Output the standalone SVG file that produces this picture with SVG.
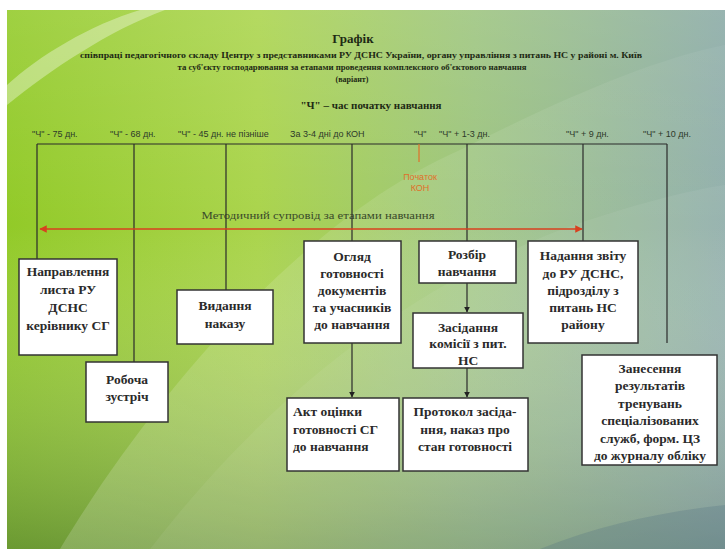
<svg xmlns="http://www.w3.org/2000/svg" width="725" height="549" viewBox="0 0 725 549">
<defs>
<linearGradient id="bgH" x1="0" y1="0" x2="1" y2="0">
<stop offset="0" stop-color="#92ca28"/>
<stop offset="0.35" stop-color="#aad44c"/>
<stop offset="0.65" stop-color="#9cc47e"/>
<stop offset="1" stop-color="#8aaaa6"/>
</linearGradient>
<linearGradient id="bgV" x1="0" y1="0" x2="0" y2="1">
<stop offset="0" stop-color="#ffffff" stop-opacity="0.12"/>
<stop offset="0.4" stop-color="#ffffff" stop-opacity="0"/>
<stop offset="1" stop-color="#2a4a40" stop-opacity="0.38"/>
</linearGradient>
<linearGradient id="sw" x1="0" y1="1" x2="1" y2="0">
<stop offset="0" stop-color="#ffffff" stop-opacity="0.18"/>
<stop offset="1" stop-color="#ffffff" stop-opacity="0.05"/>
</linearGradient>
<marker id="ab" viewBox="0 0 10 10" refX="9" refY="5" markerWidth="5" markerHeight="5" orient="auto">
<path d="M0,0 L10,5 L0,10 z" fill="#222"/>
</marker>
<marker id="ar" viewBox="0 0 10 10" refX="9" refY="5" markerWidth="5" markerHeight="5" orient="auto-start-reverse">
<path d="M0,0 L10,5 L0,10 z" fill="#d8401f"/>
</marker>
</defs>
<style>
.box{fill:#fff;stroke:#333;stroke-width:1.5}
.bt{font-family:"Liberation Serif","Times New Roman",serif;font-size:13.5px;font-weight:bold;fill:#2a2a2a;text-anchor:middle}
.bl{font-family:"Liberation Serif","Times New Roman",serif;font-size:13.5px;font-weight:bold;fill:#2a2a2a;text-anchor:start}
.tl{font-family:"Liberation Sans",Arial,sans-serif;font-size:9px;fill:#2e3a2a}
.ln{stroke:#2a2a2a;stroke-width:1.2;fill:none}
.hd{font-family:"Liberation Serif","Times New Roman",serif;font-weight:bold;fill:#1e2a14;text-anchor:middle}
</style>
<rect x="0" y="0" width="725" height="549" fill="#fff"/>
<g id="background">
<rect x="7" y="10" width="718" height="539" fill="url(#bgH)"/>
<rect x="7" y="10" width="718" height="539" fill="url(#bgV)"/>
<path d="M60,549 C150,400 300,220 460,150 C560,100 650,60 725,45 L725,549 Z" fill="url(#sw)"/>
<path d="M150,549 C250,420 380,300 560,230 C630,205 690,190 725,185 L725,549 Z" fill="#ffffff" fill-opacity="0.06"/>
<path d="M7,85 C40,55 90,25 140,10 L165,10 C110,30 50,70 7,105 Z" fill="#ffffff" fill-opacity="0.35"/>
<path d="M540,549 C600,525 660,512 725,505 L725,549 Z" fill="#4a6a80" fill-opacity="0.25"/>
</g>
<g id="title">
<text class="hd" x="353" y="43" font-size="13">Графік</text>
<text class="hd" x="361" y="58" font-size="8" textLength="562" lengthAdjust="spacingAndGlyphs">співпраці педагогічного складу Центру з представниками РУ ДСНС України, органу управління з питань НС у районі  м. Київ</text>
<text class="hd" x="352" y="70" font-size="8" textLength="349" lengthAdjust="spacingAndGlyphs">та суб'єкту господарювання за етапами  проведення  комплексного об'єктового навчання</text>
<text class="hd" x="352" y="82" font-size="8">(варіант)</text>
<text class="hd" x="371" y="109" font-size="11">"Ч" – час початку навчання</text>
</g>
<g id="timeline-labels">
<text class="tl" x="32" y="137">"Ч" - 75 дн.</text>
<text class="tl" x="110" y="137">"Ч" - 68 дн.</text>
<text class="tl" x="178" y="137">"Ч" - 45 дн. не пізніше</text>
<text class="tl" x="290" y="137">За 3-4 дні до КОН</text>
<text class="tl" x="414" y="137">"Ч"</text>
<text class="tl" x="439" y="137">"Ч" + 1-3 дн.</text>
<text class="tl" x="566" y="137">"Ч" + 9 дн.</text>
<text class="tl" x="643" y="137">"Ч" + 10 дн.</text>
<text x="420" y="180" font-family="Liberation Sans, Arial, sans-serif" font-size="9" fill="#e0702a" text-anchor="middle">Початок</text>
<text x="420" y="191" font-family="Liberation Sans, Arial, sans-serif" font-size="9" fill="#e0702a" text-anchor="middle">КОН</text>
<text x="318" y="219" font-family="'Liberation Serif', 'Times New Roman', serif" font-size="11" fill="#3a4a2a" text-anchor="middle" textLength="233" lengthAdjust="spacingAndGlyphs">Методичний супровід  за  етапами навчання</text>
</g>
<g id="connectors">
<line class="ln" x1="37" y1="144" x2="667" y2="144"/>
<line class="ln" x1="37" y1="144" x2="37" y2="259"/>
<line class="ln" x1="134" y1="144" x2="134" y2="362"/>
<line class="ln" x1="226" y1="144" x2="226" y2="290"/>
<line class="ln" x1="352" y1="144" x2="352" y2="241"/>
<line class="ln" x1="467" y1="144" x2="467" y2="241"/>
<line class="ln" x1="583" y1="144" x2="583" y2="241"/>
<line class="ln" x1="667" y1="144" x2="667" y2="343"/>
<line x1="419" y1="144" x2="419" y2="162" stroke="#e0702a" stroke-width="1.2"/>
<line x1="40" y1="229" x2="582" y2="229" stroke="#d8401f" stroke-width="1.5" marker-start="url(#ar)" marker-end="url(#ar)"/>
<line class="ln" x1="352" y1="343" x2="352" y2="397" marker-end="url(#ab)"/>
<line class="ln" x1="467" y1="283" x2="467" y2="312" marker-end="url(#ab)"/>
<line class="ln" x1="467" y1="368" x2="467" y2="397" marker-end="url(#ab)"/>
</g>
<g id="n-napravlennia">
<rect class="box" x="19" y="259" width="98" height="96"/>
<text class="bt" x="68" y="276">Направлення</text>
<text class="bt" x="68" y="294">листа РУ</text>
<text class="bt" x="68" y="312">ДСНС</text>
<text class="bt" x="68" y="330">керівнику СГ</text>
</g>
<g id="n-robocha">
<rect class="box" x="86" y="362" width="82" height="60"/>
<text class="bt" x="127" y="384">Робоча</text>
<text class="bt" x="127" y="401">зустріч</text>
</g>
<g id="n-vydannia">
<rect class="box" x="177" y="290" width="96" height="54"/>
<text class="bt" x="225" y="310">Видання</text>
<text class="bt" x="225" y="328">наказу</text>
</g>
<g id="n-ohliad">
<rect class="box" x="304" y="241" width="97" height="102"/>
<text class="bt" x="352" y="261">Огляд</text>
<text class="bt" x="352" y="278">готовності</text>
<text class="bt" x="352" y="295">документів</text>
<text class="bt" x="352" y="312">та учасників</text>
<text class="bt" x="352" y="329">до навчання</text>
</g>
<g id="n-akt">
<rect class="box" x="287" y="398" width="112" height="73"/>
<text class="bl" x="293" y="416">Акт оцінки</text>
<text class="bl" x="293" y="434">готовності СГ</text>
<text class="bl" x="293" y="451">до навчання</text>
</g>
<g id="n-rozbir">
<rect class="box" x="419" y="241" width="97" height="42"/>
<text class="bt" x="467" y="259">Розбір</text>
<text class="bt" x="467" y="276">навчання</text>
</g>
<g id="n-zasidannia">
<rect class="box" x="413" y="313" width="110" height="55"/>
<text class="bt" x="468" y="332">Засідання</text>
<text class="bt" x="468" y="348">комісії з пит.</text>
<text class="bt" x="468" y="365">НС</text>
</g>
<g id="n-protokol">
<rect class="box" x="403" y="398" width="125" height="73"/>
<text class="bt" x="465" y="416">Протокол засіда-</text>
<text class="bt" x="465" y="434">ння, наказ про</text>
<text class="bt" x="465" y="451">стан готовності</text>
</g>
<g id="n-nadannia">
<rect class="box" x="528" y="241" width="110" height="102"/>
<text class="bt" x="583" y="260">Надання звіту</text>
<text class="bt" x="583" y="278">до РУ ДСНС,</text>
<text class="bt" x="583" y="295">підрозділу  з</text>
<text class="bt" x="583" y="312">питань НС</text>
<text class="bt" x="583" y="329">району</text>
</g>
<g id="n-zanesennia">
<rect class="box" x="582" y="355" width="135" height="110"/>
<text class="bt" x="650" y="373">Занесення</text>
<text class="bt" x="650" y="390">результатів</text>
<text class="bt" x="650" y="408">тренувань</text>
<text class="bt" x="650" y="425">спеціалізованих</text>
<text class="bt" x="650" y="443">служб, форм. ЦЗ</text>
<text class="bt" x="650" y="460">до журналу обліку</text>
</g>
</svg>
